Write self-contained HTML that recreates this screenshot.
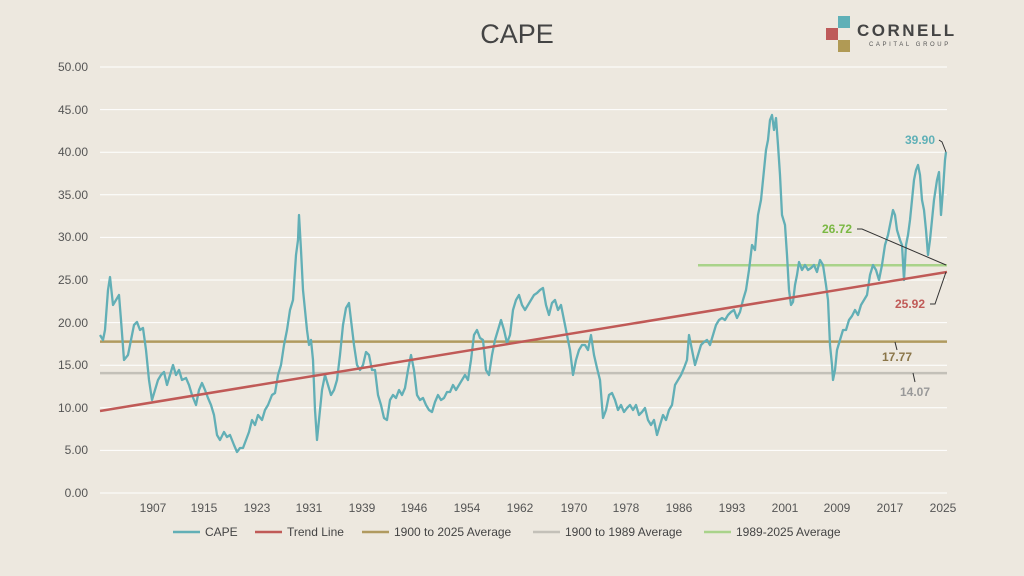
<!DOCTYPE html><html><head><style>body{margin:0;background:#ede8df;}svg{display:block;font-family:"Liberation Sans",sans-serif}</style></head><body>
<svg width="1024" height="576" viewBox="0 0 1024 576">
<rect width="1024" height="576" fill="#ede8df"/>
<text x="517" y="43" font-size="27" fill="#444" text-anchor="middle">CAPE</text>
<rect x="838" y="16" width="12" height="12" fill="#5fb0b7"/><rect x="826" y="28" width="12" height="12" fill="#be5a5a"/><rect x="838" y="40" width="12" height="12" fill="#b09a55"/>
<text x="857" y="36" font-size="17" font-weight="bold" fill="#444" letter-spacing="2.5">CORNELL</text>
<text x="869" y="46" font-size="6" fill="#555" letter-spacing="2.6">CAPITAL GROUP</text>
<g stroke="#fff" stroke-width="1">
<line x1="100" x2="947" y1="67" y2="67"/><line x1="100" x2="947" y1="109.6" y2="109.6"/><line x1="100" x2="947" y1="152.2" y2="152.2"/><line x1="100" x2="947" y1="194.8" y2="194.8"/><line x1="100" x2="947" y1="237.4" y2="237.4"/><line x1="100" x2="947" y1="280" y2="280"/><line x1="100" x2="947" y1="322.6" y2="322.6"/><line x1="100" x2="947" y1="365.2" y2="365.2"/><line x1="100" x2="947" y1="407.8" y2="407.8"/><line x1="100" x2="947" y1="450.4" y2="450.4"/><line x1="100" x2="947" y1="493" y2="493"/></g>
<g font-size="12" fill="#555" text-anchor="end">
<text x="88" y="71">50.00</text><text x="88" y="114">45.00</text><text x="88" y="156">40.00</text><text x="88" y="199">35.00</text><text x="88" y="241">30.00</text><text x="88" y="284">25.00</text><text x="88" y="327">20.00</text><text x="88" y="369">15.00</text><text x="88" y="412">10.00</text><text x="88" y="454">5.00</text><text x="88" y="497">0.00</text></g>
<g font-size="12" fill="#555" text-anchor="middle">
<text x="153" y="512">1907</text><text x="204" y="512">1915</text><text x="257" y="512">1923</text><text x="309" y="512">1931</text><text x="362" y="512">1939</text><text x="414" y="512">1946</text><text x="467" y="512">1954</text><text x="520" y="512">1962</text><text x="574" y="512">1970</text><text x="626" y="512">1978</text><text x="679" y="512">1986</text><text x="732" y="512">1993</text><text x="785" y="512">2001</text><text x="837" y="512">2009</text><text x="890" y="512">2017</text><text x="943" y="512">2025</text></g>
<line x1="100" y1="373.1" x2="947" y2="373.1" stroke="#c3c0b8" stroke-width="2.5"/>
<line x1="100" y1="341.6" x2="947" y2="341.6" stroke="#b09a5f" stroke-width="2.5"/>
<line x1="698" y1="265.3" x2="947" y2="265.3" stroke="#a9d38a" stroke-width="2.5"/>
<polyline fill="none" stroke="#62afb6" stroke-width="2.3" stroke-linejoin="round" points="100,335 103,340 105,330 108,290 110,277 113,305 116,300 119,295 121,320 124,360 128,355 131,340 134,325 137,322 140,330 143,328 146,350 149,380 152,400 155,390 158,380 161,375 164,372 167,385 170,375 173,365 176,375 179,370 182,380 186,378 189,385 192,395 196,405 199,390 202,383 205,390 208,398 211,405 214,415 217,435 220,440 224,432 227,437 230,435 234,445 237,452 240,448 243,448 246,440 249,432 252,420 255,425 258,415 262,420 265,410 268,405 272,395 275,393 278,375 281,365 284,345 287,330 290,310 293,300 296,255 298,240 299,215 301,250 303,290 305,310 307,330 309,345 311,340 313,360 315,410 317,440 319,420 322,390 325,375 328,385 331,395 334,390 337,380 340,355 343,325 346,308 349,303 351,320 354,345 357,365 360,370 363,365 366,352 369,355 372,370 375,370 378,395 381,405 384,418 387,420 390,400 393,395 396,398 399,390 402,395 405,388 408,370 411,355 414,370 417,395 420,400 423,398 426,405 429,410 432,412 435,402 438,395 441,400 444,398 447,392 450,392 453,385 456,390 459,385 462,380 465,375 468,380 471,360 474,335 477,330 480,338 483,340 486,370 489,375 492,355 495,340 498,330 501,320 504,330 507,343 510,335 513,310 516,300 519,295 522,305 525,310 528,305 531,300 534,295 537,293 540,290 543,288 546,305 549,315 552,303 555,300 558,310 561,305 564,320 567,335 570,350 573,375 576,360 579,350 582,345 585,345 588,350 591,335 594,355 597,368 600,380 603,418 606,410 609,395 612,393 615,400 618,410 621,405 624,412 627,408 630,405 633,410 636,405 639,415 642,412 645,408 648,420 651,425 654,420 657,435 660,425 663,415 666,420 669,410 672,405 675,385 678,380 681,375 684,368 687,360 689,335 692,350 695,365 698,355 701,345 704,342 707,340 710,345 713,335 716,325 719,320 722,318 725,320 728,315 731,312 734,310 737,318 740,312 743,300 746,290 749,270 752,245 755,250 758,215 761,200 764,170 766,150 768,140 770,120 772,115 774,130 776,118 778,145 780,175 782,215 785,225 787,255 789,290 791,305 793,302 795,285 797,275 799,262 802,270 805,265 808,270 811,268 814,265 817,272 820,260 823,265 826,285 828,300 830,345 832,365 833,380 835,370 837,350 840,340 843,330 846,330 849,320 852,316 855,310 858,315 861,305 864,300 867,295 870,275 873,265 876,270 879,280 882,265 885,245 888,235 890,225 893,210 895,215 897,230 900,240 902,245 904,280 906,245 908,235 910,220 912,200 914,180 916,170 918,165 920,175 922,200 924,210 926,230 928,255 930,240 932,220 934,200 937,180 939,172 941,215 943,190 945,160 946,152"/>
<line x1="100" y1="411" x2="947" y2="272" stroke="#c05a57" stroke-width="2.5"/>
<g stroke="#333" stroke-width="1" fill="none">
<polyline points="939,140 942,142 946,152"/><polyline points="857,229 862,229 946,265"/><polyline points="930,304 935,304 946,272"/>
<line x1="895" y1="342" x2="897" y2="350"/><line x1="913" y1="373" x2="915" y2="382"/></g>
<g font-size="12" font-weight="bold" text-anchor="end">
<text x="935" y="144" fill="#5fb0b7">39.90</text><text x="852" y="233" fill="#7ab843">26.72</text><text x="925" y="308" fill="#c05a57">25.92</text><text x="912" y="361" fill="#8a7548">17.77</text><text x="930" y="396" fill="#999">14.07</text></g>
<g font-size="12" fill="#444">
<line x1="173" x2="200" y1="532" y2="532" stroke="#62afb6" stroke-width="2.5"/><text x="205" y="536">CAPE</text>
<line x1="255" x2="282" y1="532" y2="532" stroke="#c05a57" stroke-width="2.5"/><text x="287" y="536">Trend Line</text>
<line x1="362" x2="389" y1="532" y2="532" stroke="#b09a5f" stroke-width="2.5"/><text x="394" y="536">1900 to 2025 Average</text>
<line x1="533" x2="560" y1="532" y2="532" stroke="#c3c0b8" stroke-width="2.5"/><text x="565" y="536">1900 to 1989 Average</text>
<line x1="704" x2="731" y1="532" y2="532" stroke="#a9d38a" stroke-width="2.5"/><text x="736" y="536">1989-2025 Average</text></g>
</svg></body></html>
